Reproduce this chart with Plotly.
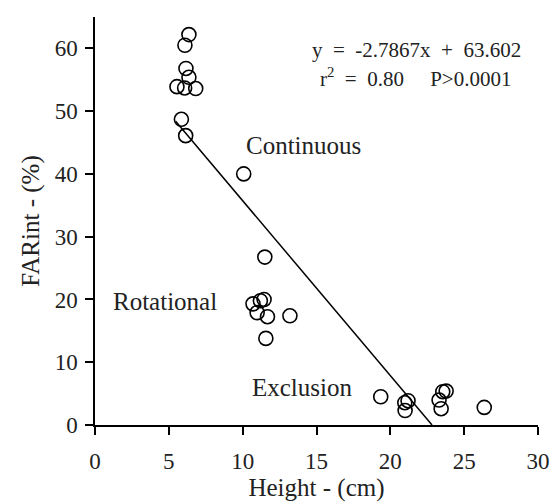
import plotly.graph_objects as go

height_cm = [6.36, 6.09, 6.16, 6.36, 5.55, 6.07, 6.82, 5.85, 6.14, 10.07,
             11.5, 11.45, 11.2, 10.7, 10.98, 11.68, 13.2, 11.57,
             19.35, 21.0, 20.98, 21.2, 23.3, 23.44, 23.55, 23.78, 26.36]
farint_pct = [62.2, 60.5, 56.8, 55.4, 53.9, 53.7, 53.6, 48.7, 46.1, 40.0,
              26.75, 20.0, 19.8, 19.3, 17.9, 17.25, 17.4, 13.8,
              4.5, 2.3, 3.55, 3.87, 3.98, 2.6, 5.3, 5.4, 2.8]

slope = -2.7867
intercept = 63.602
fit_x = [5.46, -intercept / slope]
fit_y = [slope * v + intercept for v in fit_x]

x_ticks = [0, 5, 10, 15, 20, 25, 30]
y_ticks = [0, 10, 20, 30, 40, 50, 60]

FONT = "Liberation Serif, Times New Roman, serif"

fig = go.Figure()
fig.add_trace(go.Scatter(x=fit_x, y=fit_y, mode="lines",
                         line=dict(color="black", width=1.5), hoverinfo="skip"))
fig.add_trace(go.Scatter(x=height_cm, y=farint_pct, mode="markers",
                         marker=dict(symbol="circle-open", size=14, color="black",
                                     line=dict(width=1.6, color="black"))))

ann = [
    (21.8, 59.7, "y\u00a0\u00a0=\u00a0\u00a0-2.7867x\u00a0\u00a0+\u00a0\u00a063.602", 21),
    (21.7, 55.3, "r<sup>2</sup>\u00a0\u00a0=\u00a0\u00a00.80\u00a0\u00a0\u00a0\u00a0\u00a0P>0.0001", 21),
    (14.15, 44.6, "Continuous", 25),
    (4.75, 19.6, "Rotational", 25),
    (14.04, 5.9, "Exclusion", 25),
]
for x, y, t, s in ann:
    fig.add_annotation(x=x, y=y, text=t, showarrow=False,
                       font=dict(family=FONT, size=s, color="#222"),
                       xanchor="center", yanchor="middle")

axis_common = dict(showgrid=False, zeroline=False, showline=True, linecolor="black",
                   linewidth=1.5, ticks="outside", ticklen=8, tickwidth=1.5,
                   tickcolor="black", automargin=False,
                   tickfont=dict(family=FONT, size=23, color="#222"))

# page body has an 8px default margin, so the figure is sized to fit the window
fig.update_layout(
    width=552, height=496,
    margin=dict(l=87, r=22, t=9, b=79),
    plot_bgcolor="white", paper_bgcolor="white",
    showlegend=False,
    xaxis=dict(range=[0, 30], tickvals=x_ticks, ticklabelstandoff=7,
               title=dict(text="Height - (cm)", font=dict(family=FONT, size=25, color="#222"),
                          standoff=0),
               **axis_common),
    yaxis=dict(range=[0, 65], tickvals=y_ticks, ticklabelstandoff=3,
               title=dict(text="FARint - (%)", font=dict(family=FONT, size=25, color="#222"),
                          standoff=8),
               **axis_common),
)
fig.write_html("out.html")
